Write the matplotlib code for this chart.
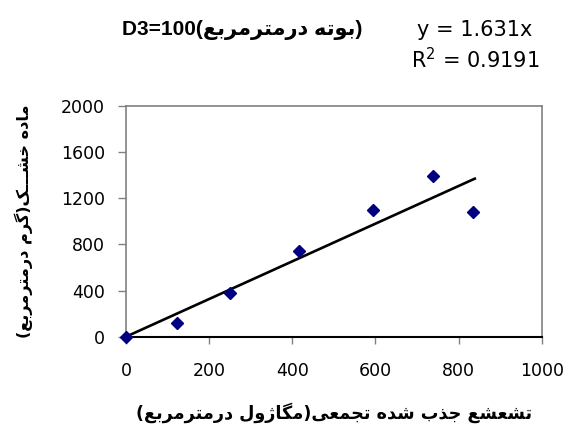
import matplotlib
matplotlib.use("Agg")
import matplotlib.pyplot as plt
import numpy as np

# Data
radiation = [0, 122, 251, 416, 593, 739, 835]       # x values
dry_matter = [0, 115, 375, 739, 1097, 1394, 1082]   # y values
slope = 1.631
r2 = 0.9191

x_ticks = [0, 200, 400, 600, 800, 1000]
y_ticks = [0, 400, 800, 1200, 1600, 2000]

title_txt = "(بوته درمترمربع)"
xlabel_txt = "تشعشع جذب شده تجمعی(مگاژول درمترمربع)"
ylabel_txt = "ماده خشـــک(گرم درمترمربع)"

# Simple Arabic/Persian shaping (matplotlib has no bidi/shaping)
forms = {
    "ا": ("\uFE8D", "\uFE8E", None, None),
    "ب": ("\uFE8F", "\uFE90", "\uFE91", "\uFE92"),
    "ت": ("\uFE95", "\uFE96", "\uFE97", "\uFE98"),
    "ج": ("\uFE9D", "\uFE9E", "\uFE9F", "\uFEA0"),
    "خ": ("\uFEA5", "\uFEA6", "\uFEA7", "\uFEA8"),
    "د": ("\uFEA9", "\uFEAA", None, None),
    "ذ": ("\uFEAB", "\uFEAC", None, None),
    "ر": ("\uFEAD", "\uFEAE", None, None),
    "ژ": ("\uFB8A", "\uFB8B", None, None),
    "ش": ("\uFEB5", "\uFEB6", "\uFEB7", "\uFEB8"),
    "ع": ("\uFEC9", "\uFECA", "\uFECB", "\uFECC"),
    "ک": ("\uFB8E", "\uFB8F", "\uFB90", "\uFB91"),
    "گ": ("\uFB92", "\uFB93", "\uFB94", "\uFB95"),
    "ل": ("\uFEDD", "\uFEDE", "\uFEDF", "\uFEE0"),
    "م": ("\uFEE1", "\uFEE2", "\uFEE3", "\uFEE4"),
    "ه": ("\uFEE9", "\uFEEA", "\uFEEB", "\uFEEC"),
    "و": ("\uFEED", "\uFEEE", None, None),
    "ی": ("\uFBFC", "\uFBFD", "\uFBFE", "\uFBFF"),
    "ـ": ("ـ", "ـ", "ـ", "ـ"),
}


def dual(c):
    return c in forms and forms[c][2] is not None


def shape(s):
    out = []
    for i, c in enumerate(s):
        if c not in forms:
            out.append(c)
            continue
        prev = s[i - 1] if i > 0 else ""
        nxt = s[i + 1] if i + 1 < len(s) else ""
        to_prev = dual(prev)
        to_next = dual(c) and nxt in forms
        iso, fin, ini, med = forms[c]
        if to_prev and to_next:
            out.append(med)
        elif to_prev:
            out.append(fin)
        elif to_next:
            out.append(ini)
        else:
            out.append(iso)
    vis = "".join(reversed(out))
    return vis.translate(str.maketrans("()", ")("))


plt.rcParams["font.family"] = ["DejaVu Sans"]

fig = plt.figure(figsize=(5.75, 4.32), dpi=100)
ax = fig.add_axes([0.2191, 0.2206, 0.7230, 0.5347])

ax.plot(radiation, dry_matter, linestyle="none", marker="D", markersize=6.5,
        color="#000080", zorder=3, clip_on=False)
fit_x = np.array([0, 839])
ax.plot(fit_x, slope * fit_x, color="black", linewidth=1.9, zorder=2)

ax.set_xlim(0, 1000)
ax.set_ylim(0, 2000)
ax.set_xticks(x_ticks)
ax.set_yticks(y_ticks)
ax.tick_params(axis="y", length=6, width=1, color="#808080", pad=9, labelsize=12.5)
ax.tick_params(axis="x", length=5, width=1, color="#808080", pad=13, labelsize=12.5)
for side in ["top", "right", "left"]:
    ax.spines[side].set_color("#808080")
    ax.spines[side].set_linewidth(1.2)
ax.spines["bottom"].set_color("black")
ax.spines["bottom"].set_linewidth(1.5)

ax.set_xlabel(shape(xlabel_txt), fontsize=12.7, fontweight="bold", labelpad=16)
ax.set_ylabel(shape(ylabel_txt), fontsize=11.6, fontweight="bold", labelpad=20)

fig.text(0.212, 0.93, "D3=100" + shape(title_txt), fontsize=15, fontweight="bold",
         family=["Liberation Sans", "DejaVu Sans"], ha="left", va="center")
fig.text(0.826, 0.93, "y = %.3fx" % slope, fontsize=15, ha="center", va="center")
fig.text(0.826, 0.862, "R$^2$ = %.4f" % r2, fontsize=15, ha="center", va="center")

fig.savefig("out.png", dpi=100)
